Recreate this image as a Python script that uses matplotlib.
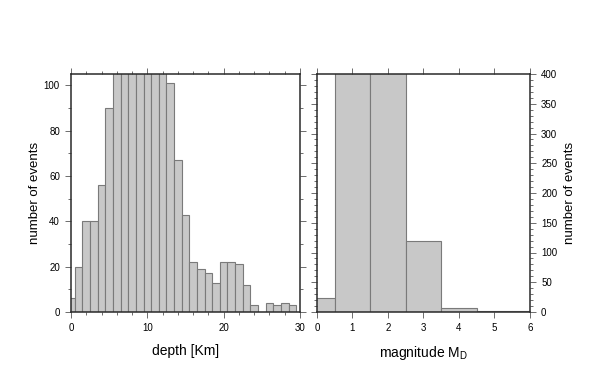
import matplotlib.pyplot as plt
from matplotlib.ticker import MultipleLocator

# depth histogram, 1 km bins centred on integers (values above 105 are clipped in the figure)
depth_centres = list(range(30))
depth_counts = [6, 20, 40, 40, 56, 90, 130, 150, 160, 155, 145, 130, 115,
                101, 67, 43, 22, 19, 17, 13, 22, 22, 21, 12, 3, 0, 4, 3, 4, 3]

# magnitude histogram, 1-unit bins centred on integers (clipped above 400)
mag_centres = [0, 1, 2, 3, 4, 5, 6]
mag_counts = [24, 520, 480, 120, 6, 1, 1]

plt.rcParams['font.family'] = ['Liberation Sans', 'DejaVu Sans']

bar_face = "#c8c8c8"
bar_edge = "#7a7a7a"
frame = "#2a2a2a"

fig = plt.figure(figsize=(6.02, 3.83), dpi=100)
ax1 = fig.add_axes([71 / 602, 71 / 383, 229 / 602, 238 / 383])
ax2 = fig.add_axes([317 / 602, 71 / 383, 213 / 602, 238 / 383])

ax1.bar(depth_centres, depth_counts, width=1.0, color=bar_face,
        edgecolor=bar_edge, linewidth=0.8)
ax1.set_xlim(0, 30)
ax1.set_ylim(0, 105)
ax1.xaxis.set_major_locator(MultipleLocator(10))
ax1.xaxis.set_minor_locator(MultipleLocator(2))
ax1.yaxis.set_major_locator(MultipleLocator(20))
ax1.yaxis.set_minor_locator(MultipleLocator(10))
ax1.set_xlabel("depth [Km]", fontsize=10, labelpad=8)
ax1.set_ylabel("number of events", fontsize=9.5, labelpad=2)

ax2.bar(mag_centres, mag_counts, width=1.0, color=bar_face,
        edgecolor=bar_edge, linewidth=0.8)
ax2.set_xlim(0, 6)
ax2.set_ylim(0, 400)
ax2.xaxis.set_major_locator(MultipleLocator(1))
ax2.yaxis.set_major_locator(MultipleLocator(50))
ax2.yaxis.set_minor_locator(MultipleLocator(10))
ax2.yaxis.set_label_position("right")
ax2.set_xlabel("magnitude M$_\\mathregular{D}$", fontsize=10, labelpad=8)
ax2.set_ylabel("number of events", fontsize=9.5, labelpad=5)

for ax in (ax1, ax2):
    for s in ax.spines.values():
        s.set_linewidth(1.1)
        s.set_color(frame)
        s.set_zorder(5)
    ax.tick_params(which="both", direction="out", top=True, right=True,
                   color="#555555", width=0.6, labelsize=7, pad=4)
    ax.tick_params(which="major", length=4)
    ax.tick_params(which="minor", length=2)

ax2.tick_params(axis="y", labelleft=False, labelright=True)

fig.savefig("out.png", dpi=100)
